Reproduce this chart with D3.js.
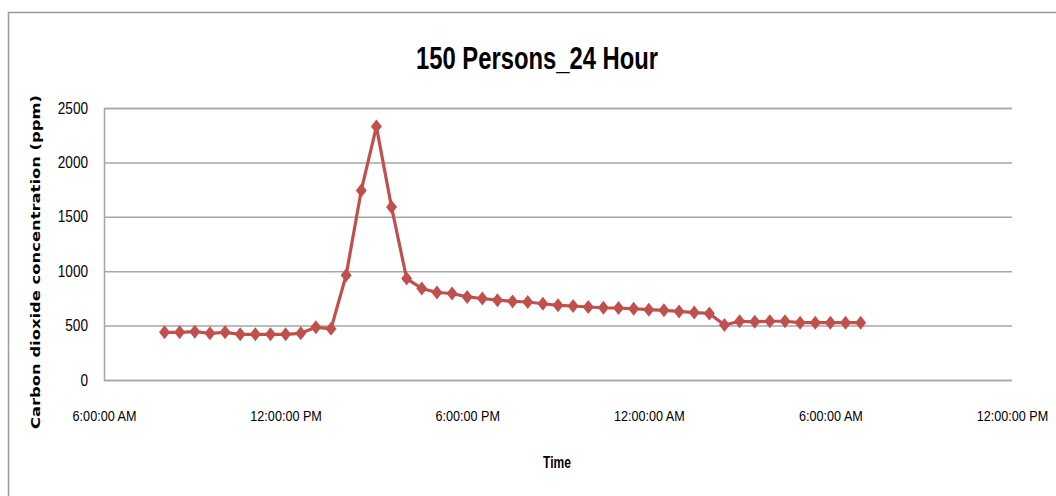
<!DOCTYPE html>
<html>
<head>
<meta charset="utf-8">
<script src="https://cdn.jsdelivr.net/npm/d3@7"></script>
<style>
  html, body { margin: 0; padding: 0; background: #fff; }
  svg { display: block; }
  text { font-family: 'Liberation Sans', Arial, sans-serif; fill: #000; }
</style>
</head>
<body>
<div id="chart"></div>
<script>
// readings every half hour, 8:00 AM to 7:00 AM next day
var times = [
  '08:00', '08:30', '09:00', '09:30', '10:00', '10:30', '11:00', '11:30',
  '12:00', '12:30', '13:00', '13:30', '14:00', '14:30', '15:00', '15:30',
  '16:00', '16:30', '17:00', '17:30', '18:00', '18:30', '19:00', '19:30',
  '20:00', '20:30', '21:00', '21:30', '22:00', '22:30', '23:00', '23:30',
  '00:00', '00:30', '01:00', '01:30', '02:00', '02:30', '03:00', '03:30',
  '04:00', '04:30', '05:00', '05:30', '06:00', '06:30', '07:00'
];

var co2 = [
  438, 438, 444, 429, 438, 420, 420, 420, 420, 429, 485, 470,
  963, 1742, 2329, 1589, 932, 841, 804, 795, 764, 749, 734, 722,
  717, 701, 686, 680, 671, 664, 661, 655, 646, 640, 630, 620,
  612, 505, 540, 535, 540, 540, 527, 527, 527, 527, 527
];

// hours from midnight of day one
var xTickHours = [6, 12, 18, 24, 30, 36];
var xTickLabels = ['6:00:00 AM', '12:00:00 PM', '6:00:00 PM', '12:00:00 AM', '6:00:00 AM', '12:00:00 PM'];
var yTicks = [0, 500, 1000, 1500, 2000, 2500];

var W = 1056, H = 496;
var plot = { left: 104, right: 1012, top: 108, bottom: 380 };
var lineColor = '#C0504D';
var gridColor = '#A6A6A6';

function hoursOf(list) {
  var day = 0, prev = -1;
  return list.map(function toHours(t) {
    var p = t.split(':');
    var h = +p[0] + (+p[1]) / 60;
    if (h < prev) { day += 24; }
    prev = h;
    return h + day;
  });
}

// squeeze text sideways, the original face is a narrow one
function condense(sel, factor) {
  sel.each(function () {
    var w = this.getComputedTextLength();
    d3.select(this)
      .attr('textLength', w * factor)
      .attr('lengthAdjust', 'spacingAndGlyphs');
  });
}

var Chart = {
  svg: null,
  x: null,
  y: null
};

Chart.init = function init(sel) {
  this.svg = sel.append('svg').attr('width', W).attr('height', H);

  // outer chart frame
  this.svg.append('path')
    .attr('d', 'M8.5,' + H + 'V12.5H' + W)
    .attr('fill', 'none')
    .attr('stroke', '#9A9A9A')
    .attr('stroke-width', 1.5);

  this.x = d3.scaleLinear().domain([6, 36]).range([plot.left, plot.right]);
  this.y = d3.scaleLinear().domain([0, 2500]).range([plot.bottom, plot.top]);
  return this;
};

Chart.drawAxes = function drawAxes() {
  var x = this.x, y = this.y;

  var yAxis = this.svg.append('g')
    .attr('transform', 'translate(' + plot.left + ',0)')
    .call(d3.axisLeft(y).tickValues(yTicks).tickFormat(d3.format('d'))
      .tickSize(-(plot.right - plot.left)).tickPadding(16));
  yAxis.select('.domain').attr('stroke', gridColor).attr('stroke-width', 1.5);
  yAxis.selectAll('.tick line').attr('stroke', gridColor).attr('stroke-width', 1.5);
  yAxis.selectAll('.tick text').attr('font-size', 16)
    .style('font-family', "'Liberation Sans', Arial, sans-serif")
    .call(condense, 0.85);

  var xAxis = this.svg.append('g')
    .attr('transform', 'translate(0,' + plot.bottom + ')')
    .call(d3.axisBottom(x).tickValues(xTickHours).tickSize(0).tickPadding(31)
      .tickFormat(function (d, i) { return xTickLabels[i]; }));
  xAxis.select('.domain').remove();
  xAxis.selectAll('.tick text').attr('font-size', 14.5)
    .style('font-family', "'Liberation Sans', Arial, sans-serif")
    .call(condense, 0.87);
};

Chart.drawSeries = function drawSeries() {
  var x = this.x, y = this.y;
  var pts = hoursOf(times).map(function (h, i) { return { h: h, v: co2[i] }; });

  this.svg.append('path')
    .datum(pts)
    .attr('fill', 'none')
    .attr('stroke', lineColor)
    .attr('stroke-width', 3.2)
    .attr('stroke-linejoin', 'round')
    .attr('d', d3.line().x(function (d) { return x(d.h); }).y(function (d) { return y(d.v); }));

  var diamond = 'M0,-7L5.5,0L0,7L-5.5,0Z';
  this.svg.append('g').selectAll('path')
    .data(pts)
    .join('path')
    .attr('d', diamond)
    .attr('fill', lineColor)
    .attr('transform', function (d) { return 'translate(' + x(d.h) + ',' + y(d.v) + ')'; });
};

Chart.drawTitles = function drawTitles() {
  this.svg.append('text')
    .attr('x', 537).attr('y', 69)
    .attr('text-anchor', 'middle')
    .attr('font-size', 31)
    .attr('font-weight', 'bold')
    .attr('textLength', 242)
    .attr('lengthAdjust', 'spacingAndGlyphs')
    .text('150 Persons_24 Hour');

  this.svg.append('text')
    .attr('x', 557).attr('y', 468)
    .attr('text-anchor', 'middle')
    .attr('font-size', 16)
    .attr('font-weight', 'bold')
    .text('Time')
    .call(condense, 0.75);

  this.svg.append('text')
    .attr('transform', 'translate(40,262) rotate(-90)')
    .attr('text-anchor', 'middle')
    .attr('font-size', 13)
    .attr('font-weight', 'bold')
    .style('font-family', "'DejaVu Sans', sans-serif")
    .attr('textLength', 334)
    .attr('lengthAdjust', 'spacingAndGlyphs')
    .text('Carbon dioxide concentration (ppm)');
};

var chart = Chart.init(d3.select('#chart'));
chart.drawAxes();
chart.drawSeries();
chart.drawTitles();
</script>
</body>
</html>
